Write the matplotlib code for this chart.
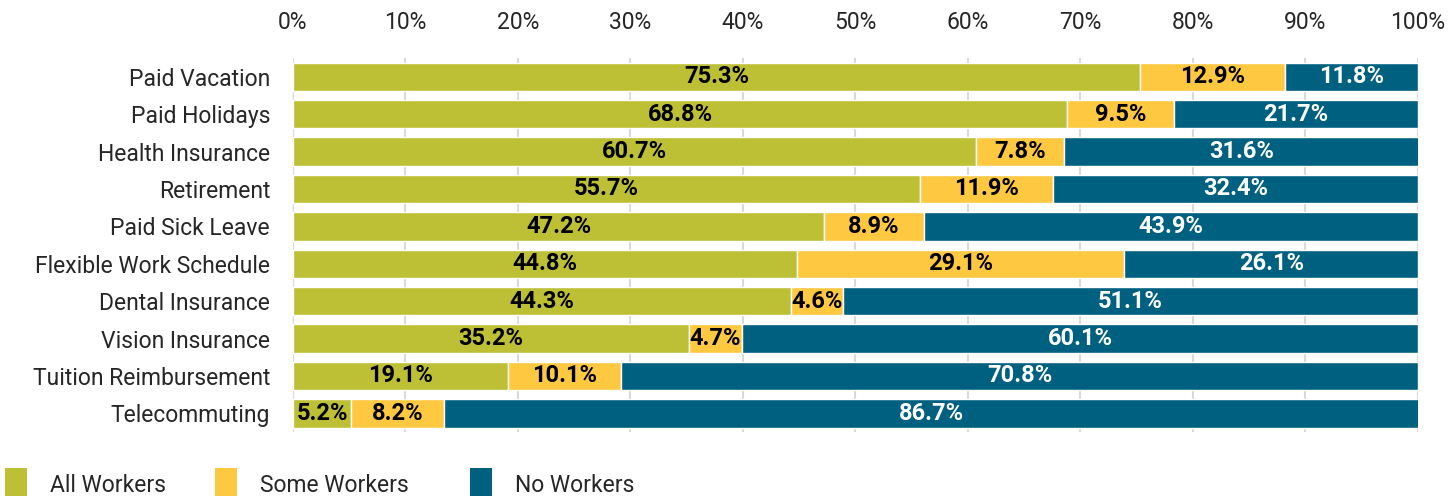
import matplotlib.pyplot as plt
from matplotlib.patches import Rectangle

benefits = ["Paid Vacation", "Paid Holidays", "Health Insurance", "Retirement",
            "Paid Sick Leave", "Flexible Work Schedule", "Dental Insurance",
            "Vision Insurance", "Tuition Reimbursement", "Telecommuting"]
all_workers = [75.3, 68.8, 60.7, 55.7, 47.2, 44.8, 44.3, 35.2, 19.1, 5.2]
some_workers = [12.9, 9.5, 7.8, 11.9, 8.9, 29.1, 4.6, 4.7, 10.1, 8.2]
no_workers = [11.8, 21.7, 31.6, 32.4, 43.9, 26.1, 51.1, 60.1, 70.8, 86.7]

series = ["All Workers", "Some Workers", "No Workers"]
colors = ["#bdbf35", "#fec840", "#00607f"]
text_colors = ["black", "black", "white"]

plt.rcParams['font.family'] = ['Roboto', 'DejaVu Sans']

fig = plt.figure(figsize=(14.49, 4.96), dpi=100)
ax = fig.add_axes([0.2022, 0.129, 0.7764, 0.754])

y = list(range(len(benefits)))
left = [0.0] * len(benefits)
for vals, col, tc in zip([all_workers, some_workers, no_workers], colors, text_colors):
    bars = ax.barh(y, vals, left=left, height=0.76, color=col,
                   edgecolor="white", linewidth=1, zorder=3)
    for b, v in zip(bars, vals):
        ax.text(b.get_x() + b.get_width() / 2, b.get_y() + b.get_height() / 2,
                f"{v:.1f}%", ha="center", va="center", fontsize=17,
                fontweight="bold", color=tc, zorder=4)
    left = [l + v for l, v in zip(left, vals)]

ax.set_xlim(0, 100)
ax.set_ylim(len(benefits) - 0.5, -0.5)
ax.set_yticks(y)
ax.set_yticklabels(benefits, fontsize=16.5, color="#262626")
ax.set_xticks(range(0, 101, 10))
ax.set_xticklabels([f"{t}%" for t in range(0, 101, 10)], fontsize=16.5, color="#262626")
ax.xaxis.tick_top()
ax.tick_params(axis="both", length=0)
ax.tick_params(axis="x", pad=17)
ax.tick_params(axis="y", pad=16.5)
ax.grid(axis="x", color="#d9d9d9", linewidth=1.5, zorder=0)
for s in ax.spines.values():
    s.set_visible(False)

# legend squares along the bottom edge
leg_x = [5, 215, 470]
W, H = 1449, 496
for xp, lab, col in zip(leg_x, series, colors):
    fig.add_artist(Rectangle((xp / W, 0), 22 / W, 28 / H, transform=fig.transFigure,
                             facecolor=col, edgecolor="none"))
    fig.text((xp + 45) / W, 1 - 485 / H, lab, fontsize=16.5, color="#262626",
             ha="left", va="center")

fig.savefig("out.png", dpi=100)
